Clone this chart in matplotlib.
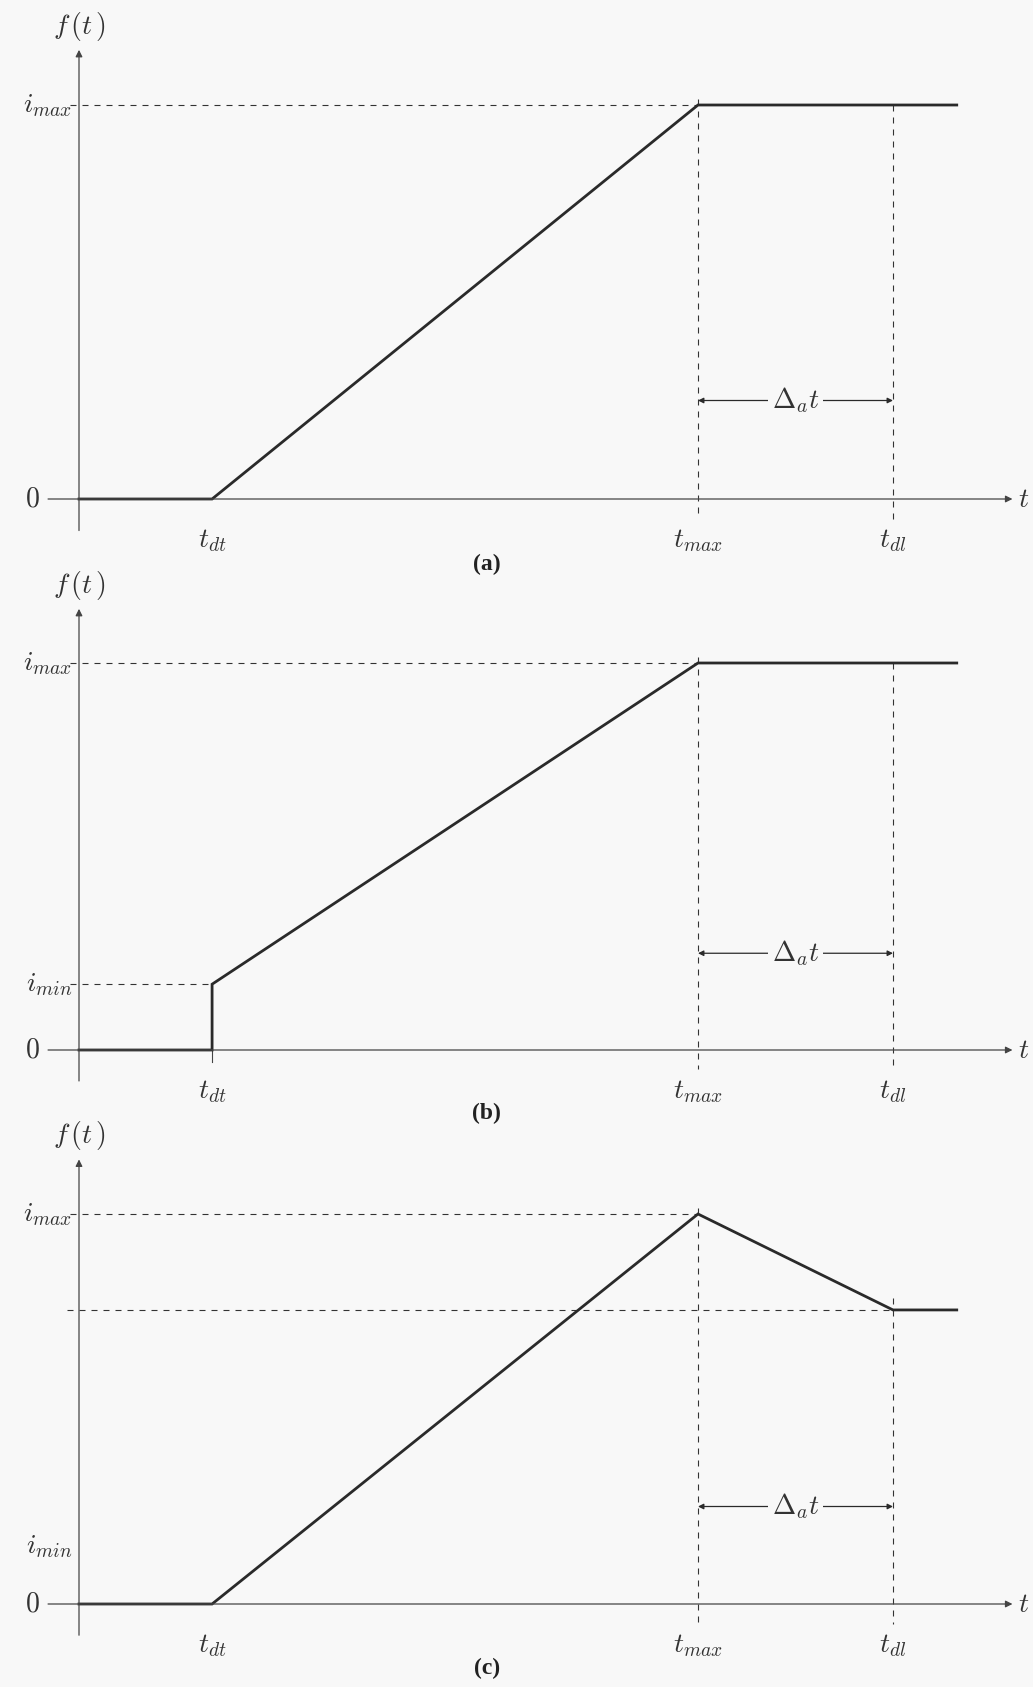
import matplotlib
matplotlib.use('Agg')
import matplotlib.pyplot as plt

plt.rcParams['mathtext.fontset'] = 'cm'

# time marks (t = 0 at the vertical axis)
t_dt = 2.15
t_max = 10.0
t_dl = 13.15
t_end = 14.18

# levels (i_max = 1)
i_max = 1.0
i_min_b = 0.17
i_min_c = 0.15
i_low_c = 0.754

# curves per panel
curve_t = {
    'a': [0, t_dt, t_max, t_end],
    'b': [0, t_dt, t_dt, t_max, t_end],
    'c': [0, t_dt, t_max, t_dl, t_end],
}
curve_f = {
    'a': [0, 0, i_max, i_max],
    'b': [0, 0, i_min_b, i_max, i_max],
    'c': [0, 0, i_max, i_low_c, i_low_c],
}
ytick_labels = {
    'a': [(0, '$0$'), (i_max, '$i_{max}$')],
    'b': [(0, '$0$'), (i_min_b, '$i_{min}$'), (i_max, '$i_{max}$')],
    'c': [(0, '$0$'), (i_min_c, '$i_{min}$'), (i_max, '$i_{max}$')],
}
xtick_labels = [(t_dt, '$t_{dt}$'), (t_max, '$t_{max}$'), (t_dl, '$t_{dl}$')]

# panel layout: pixel row of zero line and pixels per unit of f
W, H = 1033, 1687
panels = [('a', 499, 394), ('b', 1050, 387), ('c', 1604, 390)]
YLO, YHI = -0.2, 1.25
X0 = 79
PX_T = 61.9

BG = '#f8f8f8'
INK = '#2a2a2a'
AX = '#444444'
DASH = (0, (5.4, 5.4))
FS = 20

fig = plt.figure(figsize=(W / 100, H / 100), dpi=100, facecolor=BG)

for name, z, u in panels:
    bottom = 1 - (z - YLO * u) / H
    height = (YHI - YLO) * u / H
    ax = fig.add_axes([0, bottom, 1, height])
    ax.set_xlim(-X0 / PX_T, (W - X0) / PX_T)
    ax.set_ylim(YLO, YHI)
    ax.axis('off')
    ax.patch.set_alpha(0)

    # axes with arrows
    ax.annotate('', xy=(0, 1.14), xytext=(0, -0.08),
                arrowprops=dict(arrowstyle='-|>', lw=0.9, color=AX, mutation_scale=10,
                                shrinkA=0, shrinkB=0))
    ax.annotate('', xy=(15.08, 0), xytext=(-0.5, 0),
                arrowprops=dict(arrowstyle='-|>', lw=0.9, color=AX, mutation_scale=10,
                                shrinkA=0, shrinkB=0))
    ax.text(0, 1.2, '$f\\,(t\\,)$', fontsize=FS, ha='center', va='center', color='#333')
    ax.text(15.17, 0, '$t$', fontsize=FS, ha='left', va='center', color='#333')

    ys = curve_f[name]
    # dashed guides
    ax.plot([-0.15, t_max], [i_max, i_max], color='#333', lw=0.8, ls=DASH)
    ax.plot([t_max, t_max], [i_max + 0.015, -0.05], color='#333', lw=0.8, ls=DASH)
    if name == 'c':
        ax.plot([-0.2, t_dl], [i_low_c, i_low_c], color='#333', lw=0.8, ls=DASH)
        ax.plot([t_dl, t_dl], [i_low_c + 0.03, -0.05], color='#333', lw=0.8, ls=DASH)
    else:
        ax.plot([t_dl, t_dl], [i_max, -0.05], color='#333', lw=0.8, ls=DASH)
    if name == 'b':
        ax.plot([-0.15, t_dt], [i_min_b, i_min_b], color='#333', lw=0.8, ls=DASH)
        ax.plot([t_dt, t_dt], [0, -0.03], color=AX, lw=0.8)

    # function
    ax.plot(curve_t[name], ys, color=INK, lw=2.0, solid_joinstyle='miter')

    # delta arrow
    ax.annotate('', xy=(t_max, 0.25), xytext=(t_dl, 0.25),
                arrowprops=dict(arrowstyle='<|-|>', lw=0.9, color=INK, mutation_scale=8,
                                shrinkA=0, shrinkB=0))
    ax.text((t_max + t_dl) / 2, 0.25, '$\\Delta_a t$', fontsize=FS, ha='center', va='center',
            color='#333', bbox=dict(facecolor=BG, edgecolor='none', pad=3))

    for y, lab in ytick_labels[name]:
        xr = -0.63 if lab == '$0$' else -0.11
        ax.text(xr, y, lab, fontsize=FS, ha='right', va='center', color='#333')
    for x, lab in xtick_labels:
        ax.text(x, -0.105, lab, fontsize=FS, ha='center', va='center', color='#333')

    ax.text(6.59, -0.165, '(%s)' % name, fontsize=17, fontweight='bold',
            family='Liberation Serif', ha='center', va='center', color='#222')

fig.savefig('out.png', dpi=100, facecolor=BG)
